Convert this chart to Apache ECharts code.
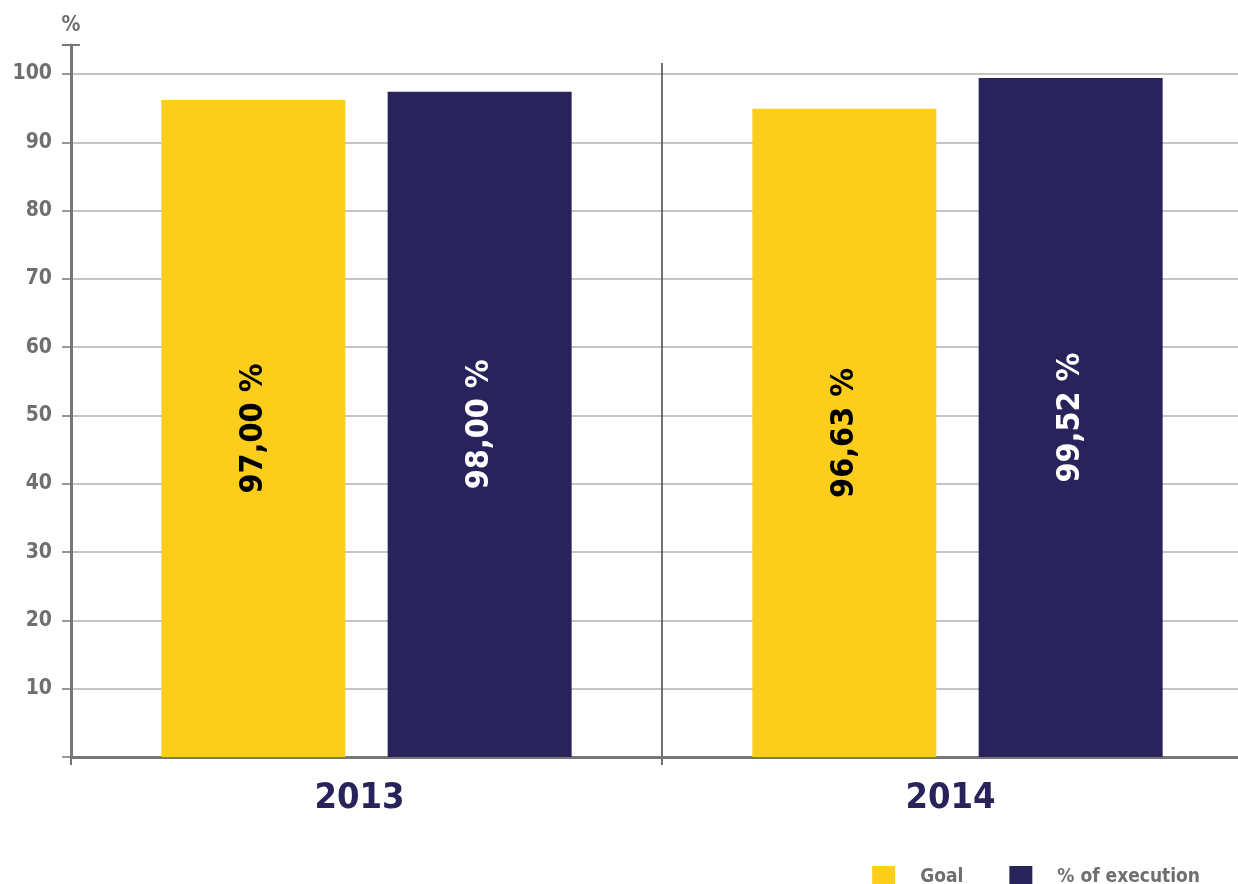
<!DOCTYPE html>
<html>
<head>
<meta charset="utf-8">
<style>
  html, body { margin: 0; padding: 0; background: #fff; }
  #chart { width: 1238px; height: 884px; }
</style>
<script src="https://cdn.jsdelivr.net/npm/echarts@6/dist/echarts.min.js"></script>
</head>
<body>
<div id="chart"></div>
<script>
const years = ['2013', '2014'];
const goalValues = [96.2, 94.9];
const executionValues = [97.4, 99.4];
const goalLabels = ['97,00 %', '96,63 %'];
const executionLabels = ['98,00 %', '99,52 %'];
const seriesNames = ['Goal', '% of execution'];

const FONT = "'DejaVu Sans Condensed', 'Liberation Sans Narrow', sans-serif";
const GREY = '#6f6f6f';
const YELLOW = '#fdcd1b';
const NAVY = '#29235c';

const chart = echarts.init(document.getElementById('chart'));

const option = {
  animation: false,
  color: [YELLOW, NAVY],
  legend: {
    data: seriesNames,
    right: 33,
    top: 861,
    itemWidth: 23,
    itemHeight: 22,
    itemGap: 46,
    icon: 'rect',
    textStyle: {
      color: GREY,
      fontFamily: FONT,
      fontWeight: 'bold',
      fontSize: 19,
      padding: [0, 0, 0, 20],
    },
  },
  grid: [
    // main plot, wider than the canvas so the categories split at x=662
    { left: 71, width: 1182, top: 74, bottom: 127, outerBoundsMode: 'none' },
    // category divider
    { left: 71, width: 1182, top: 63, bottom: 119, outerBoundsMode: 'none' },
    // tall y axis line with cap
    { left: 71, width: 1182, top: 45, bottom: 127, outerBoundsMode: 'none' },
  ],
  xAxis: [
    {
      type: 'category',
      gridIndex: 0,
      data: years,
      axisLine: { show: true, lineStyle: { color: '#777', width: 3 } },
      axisTick: { show: false },
      axisLabel: {
        color: NAVY,
        fontFamily: FONT,
        fontWeight: 'bold',
        fontSize: 36,
        margin: 24,
        padding: [0, 14, 0, 0],
      },
    },
    {
      type: 'category',
      gridIndex: 1,
      data: years,
      axisLine: { show: false },
      axisTick: { show: false },
      axisLabel: { show: false },
      splitLine: {
        show: true,
        interval: 0,
        lineStyle: { color: '#444', width: 1.5 },
      },
    },
    {
      type: 'category',
      gridIndex: 2,
      data: years,
      show: false,
    },
  ],
  yAxis: [
    {
      type: 'value',
      gridIndex: 0,
      min: 0,
      max: 100,
      interval: 10,
      name: '%',
      nameLocation: 'end',
      nameGap: 38,
      nameTextStyle: {
        color: GREY,
        fontFamily: FONT,
        fontWeight: 'bold',
        fontSize: 21,
        align: 'center',
      },
      axisLine: { show: false },
      axisTick: { show: true, length: 9, lineStyle: { color: '#777', width: 1.5 } },
      axisLabel: {
        color: GREY,
        fontFamily: FONT,
        fontWeight: 'bold',
        fontSize: 21,
        margin: 19,
        formatter: v => (v === 0 ? '' : String(v)),
      },
      splitLine: { show: true, lineStyle: { color: '#b0b0b0', width: 1.5 } },
    },
    {
      type: 'value',
      gridIndex: 1,
      show: false,
      min: 0,
      max: 100,
    },
    {
      type: 'value',
      gridIndex: 2,
      min: 0,
      max: 100,
      axisLine: {
        show: true,
        symbol: ['none', 'rect'],
        symbolSize: [18, 2],
        symbolOffset: [0, 0],
        lineStyle: { color: '#777', width: 3 },
      },
      axisTick: { show: false },
      axisLabel: { show: false },
      splitLine: { show: false },
    },
  ],
  series: [
    {
      name: seriesNames[0],
      type: 'bar',
      xAxisIndex: 0,
      yAxisIndex: 0,
      barWidth: 184,
      barGap: '23%',
      data: goalValues,
      label: {
        show: true,
        position: 'inside',
        rotate: 90,
        color: '#000',
        fontFamily: FONT,
        fontWeight: 'bold',
        fontSize: 32,
        formatter: p => goalLabels[p.dataIndex],
      },
    },
    {
      name: seriesNames[1],
      type: 'bar',
      xAxisIndex: 0,
      yAxisIndex: 0,
      barWidth: 184,
      barGap: '23%',
      data: executionValues,
      label: {
        show: true,
        position: 'inside',
        rotate: 90,
        color: '#fff',
        fontFamily: FONT,
        fontWeight: 'bold',
        fontSize: 32,
        formatter: p => executionLabels[p.dataIndex],
      },
    },
  ],
};

chart.setOption(option);
window.addEventListener('resize', () => chart.resize());
</script>
</body>
</html>
